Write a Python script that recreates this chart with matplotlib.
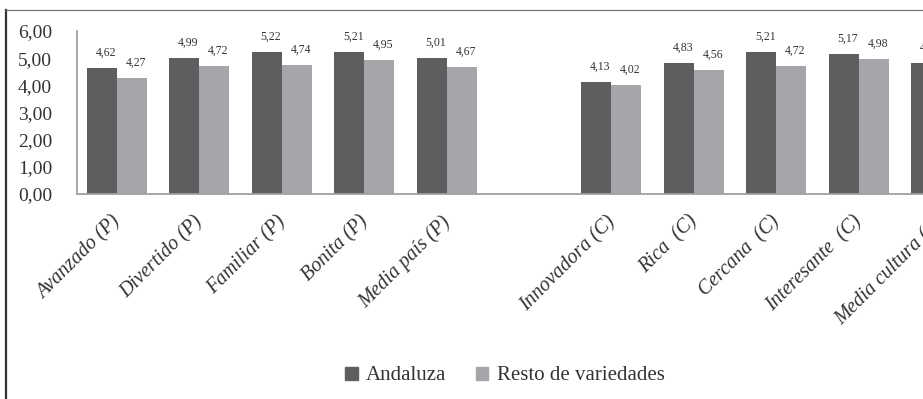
import numpy as np
import matplotlib.pyplot as plt
import matplotlib.transforms as mtransforms
from matplotlib.lines import Line2D
from matplotlib.patches import Patch

# Valoraciones medias por atributo (P = país, C = cultura)
categorias = ['Avanzado (P)', 'Divertido (P)', 'Familiar (P)', 'Bonita (P)', 'Media país (P)',
              '',
              'Innovadora (C)', 'Rica  (C)', 'Cercana  (C)', 'Interesante  (C)', 'Media cultura (C)']
andaluza = [4.62, 4.99, 5.22, 5.21, 5.01, np.nan, 4.13, 4.83, 5.21, 5.17, 4.84]
resto = [4.27, 4.72, 4.74, 4.95, 4.67, np.nan, 4.02, 4.56, 4.72, 4.98, 4.57]

col_andaluza = '#5e5e60'
col_resto = '#a5a6a9'
serif = 'Liberation Serif'

fig = plt.figure(figsize=(9.23, 3.99), dpi=100)
W, H = 923, 399
x0, x1 = 77, 983.4
ytop, ybase = 31, 194
ax = fig.add_axes([x0 / W, 1 - ybase / H, (x1 - x0) / W, (ybase - ytop) / H])

x = np.arange(len(categorias))
ancho = 0.364
b1 = ax.bar(x - ancho / 2, andaluza, ancho, color=col_andaluza, label='Andaluza')
b2 = ax.bar(x + ancho / 2, resto, ancho, color=col_resto, label='Resto de variedades')

# Etiquetas de valor encima de cada barra
for barras in (b1, b2):
    for b in barras:
        v = b.get_height()
        if np.isnan(v):
            continue
        ax.annotate(f'{v:.2f}'.replace('.', ','), (b.get_x() + b.get_width() / 2, v),
                    xytext=(3, 11), textcoords='offset points', ha='center', va='center',
                    fontsize=8.5, family=serif, color='#333333')

ax.set_xlim(-0.485, len(categorias) - 0.485)
ax.set_ylim(0, 6)
ax.set_yticks(np.arange(0, 7, 1))
ax.set_yticklabels([f'{v:.2f}'.replace('.', ',') for v in np.arange(0, 7, 1)],
                   family=serif, fontsize=14, color='#333333')
ax.set_xticks(x)
ax.set_xticklabels(categorias, rotation=45, ha='right', va='top', family=serif,
                   style='italic', fontsize=14.5, color='#333333')
ax.tick_params(axis='both', length=0)
ax.tick_params(axis='x', pad=13)
ax.tick_params(axis='y', pad=18)

# desplazar las etiquetas del eje x un poco a la derecha
desplaza = mtransforms.ScaledTranslation(8 / 100, 0, fig.dpi_scale_trans)
for etiqueta in ax.get_xticklabels():
    etiqueta.set_transform(etiqueta.get_transform() + desplaza)

for lado in ('top', 'right'):
    ax.spines[lado].set_visible(False)
for lado in ('left', 'bottom'):
    ax.spines[lado].set_color('#a0a0a0')
    ax.spines[lado].set_linewidth(1.3)

# Marco del gráfico
fig.add_artist(Line2D([6 / W, 6 / W], [0, 1 - 10 / H], color='#333333', lw=1.6))
fig.add_artist(Line2D([6 / W, 1], [1 - 10 / H, 1 - 10 / H], color='#777777', lw=0.9))

handles = [Patch(color=col_andaluza, label='Andaluza'),
           Patch(color=col_resto, label='Resto de variedades')]
fig.legend(handles=handles, loc='center', bbox_to_anchor=(505 / W, 1 - 376 / H), ncol=2,
           frameon=False, prop={'family': serif, 'size': 15}, handlelength=0.6,
           handleheight=0.6, handletextpad=0.4, columnspacing=1.4, labelcolor='#333333')

fig.savefig('out.png', dpi=100)
